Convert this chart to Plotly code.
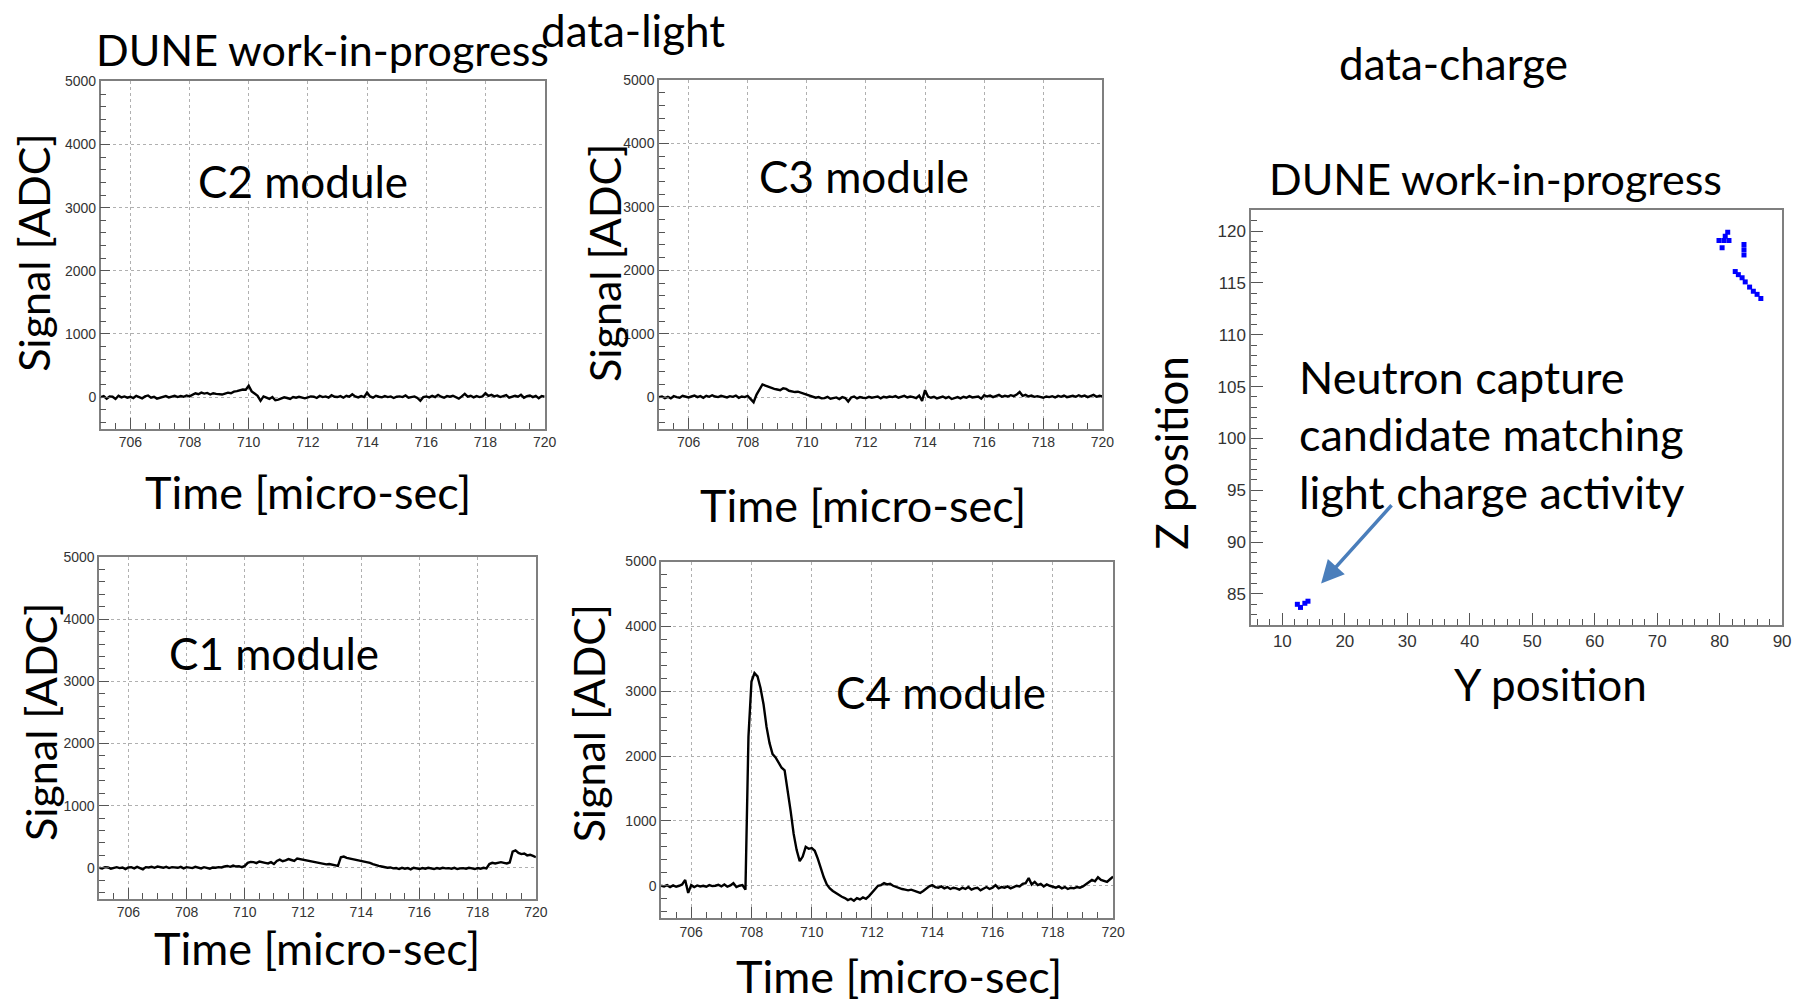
import plotly.graph_objects as go

W, H = 1806, 1004

# ---------------- data ----------------
t0, dt, n = 705.0, 0.1, 151
time_us = [round(t0 + i * dt, 1) for i in range(n)]

c2_adc = [
    0, 15, -25, 10, 5, -30, 20, -5, 10, -10,
    5, -15, 20, 0, -20, 10, 25, -10, 5, -25,
    -10, 5, 15, -5, 10, 20, 0, 15, 5, 25,
    10, 30, 60, 45, 70, 55, 65, 40, 60, 50,
    45, 40, 55, 70, 60, 85, 95, 110, 120, 115,
    180, 90, 60, 20, -60, 10, -10, -30, 0, -50,
    -40, -20, -5, -15, -30, 0, -10, 5, -5, -20,
    -5, 10, 5, -15, 20, 0, 10, -10, 30, 5,
    0, 15, -10, 20, 5, 45, 10, -5, 15, 0,
    70, 10, -10, 20, 5, -5, 15, 0, 10, -15,
    5, 10, 0, 25, -10, 5, 10, -15, -60, 0,
    10, -5, 20, 0, 35, 5, -10, 15, 5, 20,
    0, -25, 10, 50, 5, 20, -5, 15, 0, 10,
    60, 20, 35, 10, 25, 0, 15, 30, -10, 10,
    20, 5, 35, -10, 15, 25, 0, 20, -20, 15,
    5,
]

c3_adc = [
    0, 10, -15, 5, -20, 15, 0, -10, 20, 5,
    -5, 10, 25, 0, 15, -10, 20, 5, 30, 10,
    0, 20, 10, -5, 15, 5, 25, -10, 10, 0,
    20, -30, -80, 40, 120, 200, 180, 160, 150, 130,
    120, 110, 140, 130, 100, 90, 80, 85, 70, 55,
    40, 20, 10, -10, 0, -20, -15, 5, -25, -10,
    -5, -30, 0, -15, -70, -5, 10, -20, 0, -10,
    -15, 5, -10, 0, 10, -20, 5, -5, 10, 0,
    15, -10, 5, 20, -5, 10, 0, -15, 25, -60,
    110, 10, -10, 5, -20, 0, 10, -15, 5, -30,
    -10, 0, -20, 5, -10, 15, -5, 0, 10, -25,
    30, 10, 25, 0, 15, 35, 5, 20, 10, 30,
    15, 40, 80, 20, 35, 10, 25, 5, 15, 0,
    -10, 10, 0, 15, -5, 20, 5, 25, 0, 10,
    20, 5, 30, 10, 25, 0, 15, 35, 5, 20,
    10,
]

c1_adc = [
    0, -10, 10, 5, -15, 0, 10, -5, 5, -20,
    5, 10, -10, 15, 0, -25, 10, 5, 15, 0,
    20, 10, 0, 15, -5, 10, 5, 0, 15, -10,
    10, 0, -5, 15, 5, -10, 10, 0, -15, 5,
    0, 10, 5, 20, 30, 15, 35, 20, 25, 10,
    30, 80, 95, 90, 75, 100, 85, 80, 70, 90,
    60, 110, 130, 105, 120, 140, 125, 110, 150, 140,
    130, 125, 115, 100, 95, 80, 70, 65, 55, 60,
    50, 45, 30, 170, 180, 160, 150, 145, 130, 125,
    120, 100, 90, 80, 60, 40, 30, 20, 10, 0,
    5, -10, -5, -20, 0, -15, -5, -25, 0, -10,
    -20, -5, -15, 0, -10, -20, -5, -15, 0, -10,
    -5, -15, 0, -20, -10, -5, -15, 0, -10, -20,
    -5, -15, 0, -10, 60, 80, 70, 75, 90, 80,
    70, 85, 260, 280, 240, 220, 230, 200, 210, 190,
    170,
]

c4_adc = [
    0, -10, 10, -20, 5, -15, 0, 20, 90, -110,
    10, -20, 5, -10, 0, -15, 10, -5, 0, 15,
    -10, 20, -15, 5, 40, -20, 0, 10, -60, 2300,
    3150, 3280, 3230, 3050, 2800, 2450, 2200, 2030, 1980, 1900,
    1820, 1780, 1500, 1150, 800, 550, 380, 450, 600, 570,
    580, 540, 420, 260, 130, 20, -40, -80, -110, -150,
    -170, -190, -220, -200, -230, -190, -210, -180, -200, -160,
    -110, -60, 0, 10, 40, 20, 30, 0, -20, -40,
    -50, -60, -70, -60, -80, -90, -110, -80, -40, -10,
    10, -20, -30, -10, -40, -20, -50, -30, -40, -60,
    -30, -50, -20, -60, -40, -30, -70, -40, -20, -50,
    -30, 10, -40, -20, -30, -10, -40, -20, 0, -10,
    30, 40, 120, 20, 60, 10, 30, -10, 20, 0,
    -10, -30, -10, -40, -20, -50, -30, -40, -20, -30,
    -10, 20, 60, 90, 70, 130, 90, 80, 60, 100,
    140,
]

# charge hits (Y position, Z position)
hit_y = [81.3, 79.9, 80.7, 81.5, 80.9, 80.4, 83.9, 83.9, 83.9,
         82.5, 83.0, 83.6, 84.1, 84.8, 85.4, 86.0, 86.6,
         12.4, 12.9, 13.6, 14.1]
hit_z = [119.9, 119.1, 119.1, 119.1, 119.5, 118.4, 118.7, 118.2, 117.7,
         116.1, 115.8, 115.5, 115.1, 114.6, 114.2, 113.9, 113.5,
         84.0, 83.7, 84.1, 84.3]

module_names = ["C2 module", "C3 module", "C1 module", "C4 module"]

# ---------------- helpers ----------------
def fx(p):
    return p / W

def fy(p):
    return 1 - p / H

TEXT_FONT = "Lato"
TICK_FONT = "Liberation Sans"

fig = go.Figure()

light_series = [c2_adc, c3_adc, c1_adc, c4_adc]
# panel boxes in pixels: (left, right, top, bottom)
boxes = [
    (101.4, 548.3, 74.0, 424.0),
    (663.4, 1109.8, 72.7, 424.2),
    (99.9, 539.5, 553.5, 898.0),
    (665.5, 1120.5, 558.0, 917.5),
]

layout = dict(
    width=W, height=H,
    margin=dict(l=0, r=0, t=0, b=0),
    paper_bgcolor="white", plot_bgcolor="white",
    showlegend=False,
)

for i, (vals, box) in enumerate(zip(light_series, boxes)):
    k = i + 1
    xa = "x" if k == 1 else f"x{k}"
    ya = "y" if k == 1 else f"y{k}"
    fig.add_trace(go.Scatter(x=time_us, y=vals, mode="lines",
                             line=dict(color="black", width=2.4),
                             xaxis=xa, yaxis=ya, hoverinfo="skip"))
    l, r, t, b = box
    common = dict(showline=True, linecolor="#7f7f7f", linewidth=1.5, mirror=True,
                  ticks="inside", tickcolor="#555", tickwidth=1,
                  showgrid=True, gridcolor="#b0b0b0", griddash="dot", gridwidth=1,
                  zeroline=False,
                  tickfont=dict(family=TICK_FONT, size=14, color="#333"))
    layout["xaxis" if k == 1 else f"xaxis{k}"] = dict(
        domain=[fx(l), fx(r)], anchor=ya, range=[705, 720],
        tick0=706, dtick=2, ticklen=11,
        minor=dict(dtick=0.5, tick0=705, ticks="inside", ticklen=6, tickcolor="#555", showgrid=False),
        **common)
    layout["yaxis" if k == 1 else f"yaxis{k}"] = dict(
        domain=[fy(b), fy(t)], anchor=xa, range=[-500, 5000],
        tick0=0, dtick=1000, ticklen=10,
        minor=dict(dtick=200, tick0=0, ticks="inside", ticklen=6, tickcolor="#555", showgrid=False),
        **common)

# charge panel
fig.add_trace(go.Scatter(x=hit_y, y=hit_z, mode="markers",
                         marker=dict(symbol="square", size=5, color="#0000ff", line=dict(width=0)),
                         xaxis="x5", yaxis="y5", hoverinfo="skip"))
cl, cr, ct, cb = 1259.5, 1794.0, 204.0, 622.0
chg_common = dict(showline=True, linecolor="#7f7f7f", linewidth=1.5, mirror=True,
                  ticks="inside", tickcolor="#555", tickwidth=1, showgrid=False, zeroline=False,
                  tickfont=dict(family=TICK_FONT, size=17, color="#333"))
layout["xaxis5"] = dict(domain=[fx(cl), fx(cr)], anchor="y5", range=[5, 90],
                        tick0=10, dtick=10, ticklen=12,
                        minor=dict(dtick=2, tick0=0, ticks="inside", ticklen=6, tickcolor="#555"),
                        **chg_common)
layout["yaxis5"] = dict(domain=[fy(cb), fy(ct)], anchor="x5", range=[82, 122],
                        tick0=85, dtick=5, ticklen=12,
                        minor=dict(dtick=1, tick0=0, ticks="inside", ticklen=6, tickcolor="#555"),
                        **chg_common)

fig.update_layout(**layout)

def text(s, x, y, size=44, angle=0, xanchor="center", yanchor="middle"):
    fig.add_annotation(text=s, x=fx(x), y=fy(y), xref="paper", yref="paper",
                       showarrow=False, textangle=angle, xanchor=xanchor, yanchor=yanchor,
                       borderpad=0,
                       font=dict(family=TEXT_FONT, size=size, color="black"))

# titles
text("DUNE work-in-progress", 325, 42, size=43)
text("data-light", 637, -5, size=44, yanchor="top")
text("data-charge", 1463, 55.5, size=44)
text("DUNE work-in-progress", 1506, 172, size=43)

# module labels
mod_pos = [(305, 174), (870, 169), (276, 650), (947, 689)]
for name, (x, y) in zip(module_names, mod_pos):
    text(name, x, y, size=44)

# axis titles
sig_pos = [(33, 247), (609, 257), (41, 720), (592, 721)]
for x, y in sig_pos:
    text("Signal [ADC]", x, y, size=43, angle=-90)
time_pos = [(310, 488), (869, 500.5), (319, 948)]
for x, y in time_pos:
    text("Time [micro-sec]", x, y, size=45)
text("Time [micro-sec]", 905, 1004, size=45, yanchor="bottom")

text("Z position", 1178.6, 448.5, size=44, angle=-90)
text("Y position", 1560.5, 681.5, size=44)

# neutron capture note
text("Neutron capture", 1307, 372, size=45, xanchor="left")
text("candidate matching", 1307, 429, size=45, xanchor="left")
text("light charge activity", 1307, 488, size=45, xanchor="left")

# arrow
fig.add_annotation(x=16.2, y=86.0, ax=27.7, ay=93.7, xref="x5", yref="y5",
                   axref="x5", ayref="y5", text="", showarrow=True,
                   arrowhead=2, arrowsize=1.3, arrowwidth=3.5, arrowcolor="#4a7ebb")

fig.write_html("out.html")
